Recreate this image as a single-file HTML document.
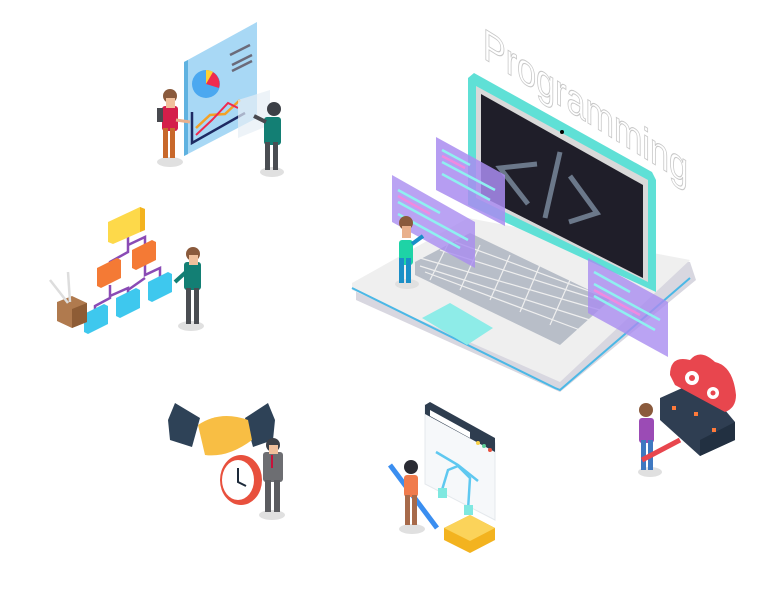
<!DOCTYPE html>
<html><head><meta charset="utf-8"><style>
html,body{margin:0;padding:0;background:#fff;width:784px;height:594px;overflow:hidden}
svg{display:block}
</style></head><body>
<svg width="784" height="594" viewBox="0 0 784 594" xmlns="http://www.w3.org/2000/svg">
<!-- Programming text -->
<text transform="matrix(1,0.62,0,1,483,58)" font-family="Liberation Sans Narrow, Liberation Sans, sans-serif" font-size="44" fill="#fff" stroke="#c8c8c8" stroke-width="1" textLength="205" lengthAdjust="spacingAndGlyphs">Programming</text>

<!-- Laptop base -->
<polygon points="356,286 468,222 690,262 696,280 560,392 356,300" fill="#d8d7e0"/>
<polygon points="352,283 468,218 690,260 560,382 352,290" fill="#efefef"/>
<path d="M352,288 L555,388 L560,390 L690,278" fill="none" stroke="#4bb8e6" stroke-width="2"/>
<!-- Screen -->
<polygon points="468,78 474,73 652,172 656,180 656,292 468,205" fill="#5fe0d6"/>
<polygon points="476,86 648,180 648,282 476,198" fill="#d9d9d9"/>
<polygon points="481,94 643,185 643,278 481,196" fill="#1f1e29"/>
<circle cx="562" cy="132" r="2" fill="#000"/>
<g stroke="#6b788a" stroke-width="5" fill="none">
<polyline points="537,164 500,168 528,204"/>
<line x1="560" y1="152" x2="545" y2="218"/>
<polyline points="570,176 597,213 569,222"/>
</g>
<!-- keyboard -->
<polygon points="415,262 470,233 610,300 560,345 415,275" fill="#b8bec8"/>
<g stroke="#efefef" stroke-width="1.2">
<line x1="420" y1="258" x2="600" y2="310"/><line x1="420" y1="266" x2="590" y2="320"/><line x1="425" y1="272" x2="580" y2="330"/><line x1="440" y1="250" x2="605" y2="302"/><line x1="455" y1="242" x2="608" y2="298"/>
<line x1="450" y1="240" x2="430" y2="280"/><line x1="480" y1="245" x2="460" y2="290"/><line x1="510" y1="255" x2="490" y2="300"/><line x1="540" y1="265" x2="520" y2="312"/><line x1="570" y1="280" x2="550" y2="325"/>
</g>
<polygon points="422,318 450,303 493,328 467,345" fill="#8eece8"/>
<!-- floating panels -->
<polygon points="436,137 505,175 505,226 436,190" fill="#a98cf0" opacity="0.85"/>
<polygon points="392,175 475,222 475,268 392,222" fill="#a98cf0" opacity="0.8"/>
<polygon points="588,258 668,302 668,357 588,313" fill="#a98cf0" opacity="0.8"/>
<g stroke="#8ff0f0" stroke-width="2.5">
<line x1="442" y1="150" x2="470" y2="165"/><line x1="442" y1="162" x2="495" y2="190"/><line x1="442" y1="174" x2="490" y2="200"/>
<line x1="398" y1="190" x2="440" y2="213"/><line x1="398" y1="202" x2="468" y2="240"/><line x1="398" y1="214" x2="460" y2="248"/>
<line x1="594" y1="272" x2="630" y2="292"/><line x1="594" y1="284" x2="660" y2="320"/><line x1="594" y1="296" x2="655" y2="330"/>
</g>
<g stroke="#f08ae0" stroke-width="2.5">
<line x1="442" y1="156" x2="465" y2="168"/><line x1="398" y1="196" x2="430" y2="214"/><line x1="594" y1="290" x2="640" y2="315"/>
</g>
<!-- coder person -->
<ellipse cx="407" cy="284" rx="12" ry="5" fill="#e0e0e0"/>
<rect x="399" y="240" width="14" height="25" rx="3" fill="#1ed3a6"/>
<rect x="399" y="258" width="5" height="25" fill="#1a8fc7"/><rect x="406" y="258" width="5" height="25" fill="#1a8fc7"/>
<line x1="412" y1="244" x2="423" y2="236" stroke="#1a8fc7" stroke-width="4"/>
<circle cx="406" cy="223" r="7" fill="#8a5a3c"/><rect x="402" y="226" width="9" height="12" fill="#e9b08c"/>

<!-- Presentation board -->
<polygon points="184,62 257,22 257,118 184,156" fill="#a8d8f5"/>
<polygon points="184,62 188,60 188,154 184,156" fill="#5fb2e0"/>
<circle cx="206" cy="84" r="14" fill="#4ba8f0"/>
<path d="M206,84 L206,70 A14,14 0 0 1 219,88 Z" fill="#ef2a4f"/>
<path d="M206,84 L206,70 A14,14 0 0 1 213,72 Z" fill="#ffd233"/>
<g stroke="#6b6b7a" stroke-width="2.5"><line x1="230" y1="55" x2="250" y2="45"/><line x1="232" y1="65" x2="252" y2="55"/><line x1="232" y1="71" x2="252" y2="61"/></g>
<polyline points="192,112 192,143 245,113" fill="none" stroke="#1d2a63" stroke-width="2.5"/>
<polyline points="196,128 210,115 225,114 240,100" fill="none" stroke="#f3a126" stroke-width="2.5"/>
<polyline points="196,135 212,120 228,103 238,108" fill="none" stroke="#ef2a4f" stroke-width="2"/>
<polygon points="238,100 270,90 270,125 238,138" fill="#e6eef5" opacity="0.7"/>
<ellipse cx="170" cy="162" rx="13" ry="5" fill="#e0e0e0"/>
<rect x="162" y="106" width="16" height="25" rx="3" fill="#d41e4a"/>
<rect x="157" y="108" width="6" height="14" fill="#48494f"/>
<rect x="163" y="128" width="5" height="30" fill="#c8682b"/><rect x="170" y="128" width="5" height="30" fill="#c8682b"/>
<line x1="176" y1="120" x2="190" y2="122" stroke="#e9b08c" stroke-width="3"/>
<circle cx="170" cy="96" r="7" fill="#8a5a3c"/><rect x="166" y="98" width="9" height="10" fill="#f0c09c"/>
<ellipse cx="272" cy="172" rx="12" ry="5" fill="#e0e0e0"/>
<rect x="264" y="117" width="17" height="28" rx="3" fill="#137f74"/>
<rect x="265" y="142" width="5" height="28" fill="#4a4d52"/><rect x="273" y="142" width="5" height="28" fill="#4a4d52"/>
<line x1="266" y1="122" x2="254" y2="116" stroke="#48494f" stroke-width="4"/>
<circle cx="274" cy="109" r="7" fill="#3d4047"/>

<!-- Flowchart -->
<g stroke="#8a4bb5" stroke-width="2.5" fill="none">
<polyline points="128,235 128,252 110,262 110,275"/><polyline points="128,245 145,237 145,250"/>
<polyline points="110,285 110,298 95,306 95,318"/><polyline points="110,296 128,288 128,300"/><polyline 
points="145,262 145,275 160,268 160,282"/><polyline points="128,290 145,278"/>
</g>
<polygon points="108,222 140,207 145,209 145,230 113,244 108,242" fill="#fdd94a"/>
<polygon points="140,207 145,209 145,230 140,232" fill="#f3b31f"/>
<polygon points="97,268 117,258 121,260 121,278 101,288 97,286" fill="#f47a35"/>
<polygon points="132,250 152,240 156,242 156,260 136,270 132,268" fill="#f47a35"/>
<polygon points="84,314 104,304 108,306 108,324 88,334 84,332" fill="#3ec8ee"/>
<polygon points="116,298 136,288 140,290 140,308 120,318 116,316" fill="#3ec8ee"/>
<polygon points="148,282 168,272 172,274 172,292 152,302 148,300" fill="#3ec8ee"/>
<polygon points="57,302 72,296 87,303 87,322 72,328 57,321" fill="#b07a4e"/>
<polygon points="72,309 87,303 87,322 72,328" fill="#8e5c35"/>
<line x1="50" y1="280" x2="68" y2="303" stroke="#ddd" stroke-width="2.5"/><line x1="68" y1="272" x2="70" y2="302" stroke="#ddd" stroke-width="2.5"/>
<ellipse cx="191" cy="326" rx="13" ry="5" fill="#e0e0e0"/>
<rect x="184" y="262" width="17" height="28" rx="3" fill="#137f74"/>
<line x1="186" y1="272" x2="175" y2="282" stroke="#137f74" stroke-width="4"/>
<rect x="186" y="288" width="5" height="36" fill="#4a4d52"/><rect x="194" y="288" width="5" height="36" fill="#4a4d52"/>
<circle cx="193" cy="254" r="7" fill="#8a5a3c"/><rect x="189" y="255" width="9" height="10" fill="#f0c09c"/>

<!-- Handshake -->
<polygon points="168,420 175,403 200,418 192,447 170,440" fill="#2e4257"/>
<polygon points="275,420 268,403 245,418 253,447 273,440" fill="#2e4257"/>
<path d="M198,425 Q220,410 248,420 L252,440 Q228,458 205,455 Z" fill="#f8be44"/>
<ellipse cx="241" cy="480" rx="21" ry="25" fill="#e8503d"/>
<ellipse cx="238" cy="480" rx="16" ry="20" fill="#fff"/>
<polyline points="238,468 238,482 246,486" stroke="#1d2a3a" stroke-width="2" fill="none"/>
<ellipse cx="272" cy="515" rx="13" ry="5" fill="#e0e0e0"/>
<rect x="263" y="452" width="20" height="30" rx="3" fill="#6d6e72"/>
<rect x="265" y="480" width="6" height="32" fill="#5b5c60"/><rect x="274" y="480" width="6" height="32" fill="#5b5c60"/>
<line x1="272" y1="455" x2="272" y2="468" stroke="#c8123a" stroke-width="2"/>
<circle cx="273" cy="445" r="7" fill="#3d4047"/><rect x="269" y="445" width="9" height="9" fill="#f0c09c"/>

<!-- Design window -->
<polygon points="425,405 495,443 495,520 425,484" fill="#f6f8fa" stroke="#e4e8ec"/>
<polygon points="425,405 430,402 495,438 495,452 425,414" fill="#2e3d4f"/>
<polygon points="430,410 470,432 470,438 430,416" fill="#fff"/>
<circle cx="478" cy="443" r="2" fill="#f8d048"/><circle cx="484" cy="446" r="2" fill="#5fd09a"/><circle cx="490" cy="450" r="2" fill="#e8503d"/>
<g stroke="#5fc8f0" stroke-width="2.5" fill="none"><path d="M436,452 L458,465 L478,481"/><path d="M442,490 L448,470 L458,466 L470,478 L468,510"/></g>
<rect x="438" y="488" width="9" height="10" fill="#7fe8e0"/><rect x="464" y="505" width="9" height="10" fill="#7fe8e0"/>
<polygon points="444,528 470,515 495,528 495,540 470,553 444,540" fill="#f3b31f"/>
<polygon points="444,528 470,515 495,528 470,541" fill="#fbd35a"/>
<line x1="390" y1="465" x2="437" y2="528" stroke="#3a8ef0" stroke-width="5"/>
<ellipse cx="412" cy="529" rx="13" ry="5" fill="#e0e0e0"/>
<rect x="404" y="475" width="14" height="22" rx="3" fill="#f07b4c"/>
<rect x="405" y="495" width="5" height="30" fill="#a76a4a"/><rect x="412" y="495" width="5" height="30" fill="#a76a4a"/>
<circle cx="411" cy="467" r="7" fill="#2a2b33"/>

<!-- Server + cloud -->
<polygon points="660,398 700,380 735,422 735,440 700,456 660,420" fill="#2f3e52"/>
<polygon points="700,440 735,422 735,440 700,456" fill="#223041"/>
<g fill="#ff7a3a"><rect x="672" y="406" width="4" height="4"/><rect x="694" y="412" width="4" height="4"/><rect x="712" y="428" width="4" height="4"/></g>
<path d="M670,375 Q670,355 690,360 Q700,348 715,362 Q733,366 736,395 Q736,408 725,412 L675,385 Z" fill="#e8464e"/>
<circle cx="692" cy="378" r="7" fill="#fff"/><circle cx="692" cy="378" r="3" fill="#e8464e"/>
<circle cx="713" cy="393" r="6" fill="#fff"/><circle cx="713" cy="393" r="2.5" fill="#e8464e"/>
<ellipse cx="650" cy="472" rx="12" ry="5" fill="#e0e0e0"/>
<rect x="639" y="418" width="15" height="25" rx="3" fill="#9b4bb5"/>
<rect x="641" y="440" width="5" height="30" fill="#3f78c0"/><rect x="648" y="440" width="5" height="30" fill="#3f78c0"/>
<line x1="642" y1="460" x2="680" y2="440" stroke="#e8464e" stroke-width="5"/>
<circle cx="646" cy="410" r="7" fill="#8a5a3c"/>
</svg>
</body></html>
